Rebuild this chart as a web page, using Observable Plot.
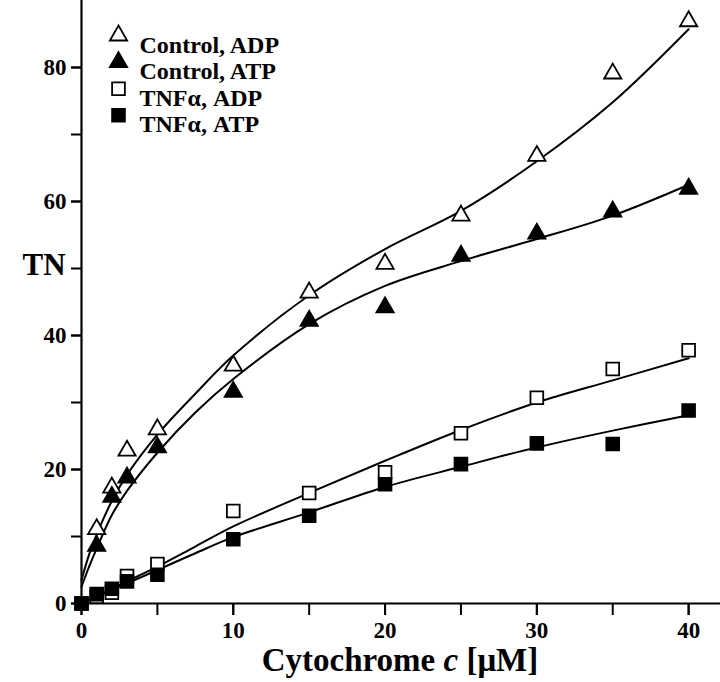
<!DOCTYPE html>
<html><head><meta charset="utf-8">
<script src="https://cdn.jsdelivr.net/npm/d3@7"></script>
<script src="https://cdn.jsdelivr.net/npm/@observablehq/plot@0.6"></script>
<style>body{margin:0;background:#fff} svg{display:block}</style>
</head><body><div id="chart"></div>
<script>
// measured points (cytochrome c, µM) -> TN
const conc        = [0, 1, 2, 3, 5, 10, 15, 20, 25, 30, 35, 40];
const controlADP  = [null, 11.1, 17.3, 22.8, 26.0, 35.5, 46.4, 50.7, 57.9, 66.8, 79.1, 86.9];
const controlATP  = [null, 8.6, 15.9, 18.8, 23.3, 31.6, 42.2, 44.2, 51.9, 55.2, 58.5, 61.9];
const tnfADP      = [0, 1.0, 1.6, 4.1, 5.9, 13.8, 16.5, 19.6, 25.4, 30.7, 35.0, 37.8];
const tnfATP      = [0, 1.4, 2.2, 3.3, 4.3, 9.6, 13.1, 17.8, 20.8, 23.9, 23.8, 28.8];
// fitted curves
const fitX           = [0, 0.5, 1, 2, 3, 5, 7.5, 10, 15, 20, 25, 30, 35, 40];
const fitControlADP  = [3.5, 7.3, 10.3, 15.3, 19.2, 25.2, 31.3, 37.0, 46.0, 52.9, 58.6, 66.0, 74.8, 85.7];
const fitControlATP  = [2.5, 5.5, 8.2, 13.2, 16.8, 22.5, 28.5, 33.5, 41.7, 47.4, 51.1, 54.4, 57.9, 62.5];
const fitTnfADP      = [0, 0.5, 1.1, 2.2, 3.3, 5.5, 8.5, 11.5, 16.5, 21.3, 25.9, 30.0, 33.3, 36.6];
const fitTnfATP      = [0, 0.5, 1.0, 2.0, 3.0, 5.0, 7.5, 9.9, 13.6, 17.4, 20.4, 23.3, 25.8, 28.1];
const seriesNames = ["Control, ADP", "Control, ATP", "TNFα, ADP", "TNFα, ATP"];
const xTicks = [0, 5, 10, 15, 20, 25, 30, 35, 40];
const xLabelTicks = [0, 10, 20, 30, 40];
const yTicks = [0, 10, 20, 30, 40, 50, 60, 70, 80];
const yLabelTicks = [0, 20, 40, 60, 80];
const xTitle = "Cytochrome c [μM]";
const yTitle = "TN";

const pointSets = [controlADP, controlATP, tnfADP, tnfATP];
const fitSets = [fitControlADP, fitControlATP, fitTnfADP, fitTnfATP];
const points = [];
pointSets.forEach((arr, s) => arr.forEach((v, i) => { if (v != null) points.push({series: seriesNames[s], x: conc[i], y: v}); }));
const fits = [];
fitSets.forEach((arr, s) => arr.forEach((v, i) => fits.push({series: seriesNames[s], x: fitX[i], y: v})));

const styles = [
  {symbol: "triangle", r: 6.4, fill: "white", stroke: "black"},
  {symbol: "triangle", r: 6.4, fill: "black", stroke: "black"},
  {symbol: "square", r: 7.2, fill: "white", stroke: "black"},
  {symbol: "square", r: 7.2, fill: "black", stroke: "black"}
];
const font = "'Liberation Serif', 'Times New Roman', serif";

const marks = [];
// axes
marks.push(Plot.ruleY([0], {stroke: "black", strokeWidth: 2.2}));
marks.push(Plot.ruleX([0], {stroke: "black", strokeWidth: 2.2}));
marks.push(Plot.axisY({ticks: yTicks, tickSize: 10, tickFormat: () => "", label: null, strokeWidth: 2}));
marks.push(Plot.axisY({ticks: yLabelTicks, tickSize: 10, tickPadding: 5, label: null, fontSize: 23, fontWeight: "bold", fontFamily: font, fill: "black", strokeWidth: 2}));
marks.push(Plot.axisX({ticks: xTicks, tickSize: 12, tickFormat: () => "", label: null, strokeWidth: 2}));
marks.push(Plot.axisX({ticks: xLabelTicks, tickSize: 12, tickPadding: 6, label: null, fontSize: 23, fontWeight: "bold", fontFamily: font, fill: "black", strokeWidth: 2}));
// fitted lines
marks.push(Plot.line(fits, {x: "x", y: "y", z: "series", curve: "catmull-rom", stroke: "black", strokeWidth: 2}));
// points
seriesNames.forEach((name, s) => {
  marks.push(Plot.dot(points.filter(d => d.series === name), {x: "x", y: "y", ...styles[s], strokeWidth: 1.8}));
});
// legend
seriesNames.forEach((name, s) => {
  const dy = 35 + s * 26.6;
  marks.push(Plot.dot([name], {frameAnchor: "top-left", dx: 37, dy, ...styles[s], strokeWidth: 1.8}));
  marks.push(Plot.text([name], {frameAnchor: "top-left", dx: 58, dy, text: d => d, textAnchor: "start", fontSize: 24, fontWeight: "bold", fontFamily: font, fill: "black"}));
});
// axis titles
marks.push(Plot.text([yTitle], {frameAnchor: "top-left", dx: -59, dy: 252, text: d => d, fontSize: 31, fontWeight: "bold", fontFamily: font, fill: "black"}));
marks.push(Plot.text([xTitle], {frameAnchor: "bottom", dx: -1, dy: 67, text: d => d, fontSize: 33, fontWeight: "bold", fontFamily: font, fill: "black"}));

const chart = Plot.plot({
  width: 720, height: 682,
  marginLeft: 81, marginRight: 0, marginTop: 0, marginBottom: 79,
  x: {domain: [0, 42.1]},
  y: {domain: [0, 90]},
  style: {fontFamily: font, background: "white"},
  marks
});
chart.querySelectorAll("text").forEach(t => {
  if (t.textContent === xTitle) {
    t.textContent = "";
    const ns = "http://www.w3.org/2000/svg";
    const parts = [["Cytochrome ", "normal"], ["c", "italic"], [" [μM]", "normal"]];
    parts.forEach(([s, st]) => { const ts = document.createElementNS(ns, "tspan"); ts.textContent = s; ts.setAttribute("font-style", st); t.appendChild(ts); });
  }
});
document.getElementById("chart").appendChild(chart);
</script>
</body></html>
